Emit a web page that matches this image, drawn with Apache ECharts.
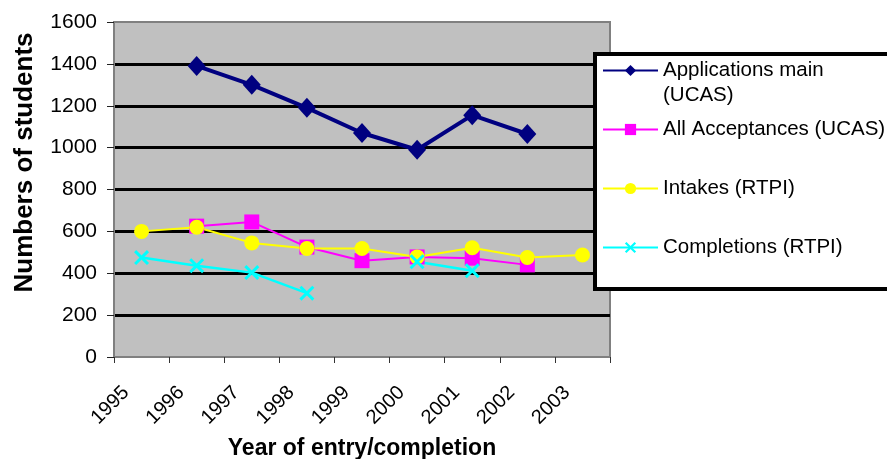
<!DOCTYPE html>
<html>
<head>
<meta charset="utf-8">
<script src="https://cdn.jsdelivr.net/npm/echarts@6/dist/echarts.min.js"></script>
<style>
html,body{margin:0;padding:0;background:#fff;}
#c{width:887px;height:459px;}
</style>
</head>
<body>
<div id="c"></div>
<script>
const categories = ['1995', '1996', '1997', '1998', '1999', '2000', '2001', '2002', '2003'];
const applications = [null, 1390, 1300, 1190, 1070, 990, 1155, 1065, null];
const acceptances = [null, 625, 645, 525, 460, 478, 472, 440, null];
const intakes = [600, 620, 545, 518, 518, 478, 522, 475, 487];
const completions = [475, 436, 403, 305, null, 455, 412, null, null];
const seriesNames = ['Applications main (UCAS)', 'All Acceptances (UCAS)', 'Intakes (RTPI)', 'Completions (RTPI)'];
const yTicks = { min: 0, max: 1600, interval: 200 };

const FONT = '"Liberation Sans", Arial, sans-serif';
const xSymbol = 'path://M0,1.4 L1.4,0 L10,8.6 L8.6,10 Z M8.6,0 L10,1.4 L1.4,10 L0,8.6 Z';

const chart = echarts.init(document.getElementById('c'), null, { renderer: 'canvas' });
chart.setOption({
  animation: false,
  backgroundColor: '#ffffff',
  textStyle: { fontFamily: FONT },
  grid: {
    left: 114, right: 277, top: 22, bottom: 102,
    outerBoundsMode: 'none', containLabel: false,
    show: true, backgroundColor: '#c0c0c0', borderColor: '#808080', borderWidth: 2
  },
  graphic: [{
    type: 'rect', z: 3, silent: true,
    shape: { x: 595, y: 54, width: 320, height: 235 },
    style: { fill: '#ffffff', stroke: '#000000', lineWidth: 4 }
  }],
  xAxis: {
    type: 'category',
    data: categories,
    boundaryGap: true,
    name: 'Year of entry/completion',
    nameLocation: 'middle',
    nameGap: 80,
    nameTextStyle: { fontSize: 23, fontWeight: 'bold', color: '#000', fontFamily: FONT },
    axisLine: { show: true, lineStyle: { color: '#808080', width: 2 } },
    axisTick: { show: true, length: 6, lineStyle: { color: '#333', width: 1 } },
    axisLabel: { rotate: 45, fontSize: 20, color: '#000', margin: 17, padding: [0, 22, 0, 0], fontFamily: FONT },
    splitLine: { show: false }
  },
  yAxis: {
    type: 'value',
    min: yTicks.min, max: yTicks.max, interval: yTicks.interval,
    name: 'Numbers of students',
    nameLocation: 'middle',
    nameGap: 76,
    nameTextStyle: { fontSize: 26, fontWeight: 'bold', color: '#000', fontFamily: FONT, padding: [0, 0, 0, 54] },
    axisLine: { show: true, lineStyle: { color: '#808080', width: 2 } },
    axisTick: { show: true, length: 7, lineStyle: { color: '#222', width: 1 } },
    axisLabel: { fontSize: 21, color: '#000', margin: 17, fontFamily: FONT, formatter: function (v) { return String(v); } },
    splitLine: { show: true, showMinLine: false, showMaxLine: false, lineStyle: { color: '#000', width: 3 } }
  },
  legend: {
    orient: 'vertical',
    left: 595, top: 33,
    itemWidth: 55, itemHeight: 14, itemGap: -16,
    padding: [0, 40, 0, 7],
    textStyle: { fontSize: 20.5, lineHeight: 25, color: '#000', fontFamily: FONT },
    formatter: function (n) { return n === seriesNames[0] ? ' \nApplications main\n(UCAS)' : n; },
    data: [
      { name: seriesNames[0] },
      { name: seriesNames[1], textStyle: { padding: [25, 0, 25, 0] } },
      { name: seriesNames[2], textStyle: { padding: [25, 0, 25, 0] } },
      { name: seriesNames[3], textStyle: { padding: [25, 0, 25, 0] } }
    ]
  },
  series: [
    {
      name: seriesNames[0], type: 'line', data: applications,
      symbol: 'diamond', symbolSize: [18, 20], connectNulls: false,
      lineStyle: { color: '#000080', width: 4 }, itemStyle: { color: '#000080' }
    },
    {
      name: seriesNames[1], type: 'line', data: acceptances,
      symbol: 'rect', symbolSize: 15, connectNulls: false,
      lineStyle: { color: '#ff00ff', width: 2 }, itemStyle: { color: '#ff00ff' }
    },
    {
      name: seriesNames[2], type: 'line', data: intakes,
      symbol: 'circle', symbolSize: 15, connectNulls: false,
      lineStyle: { color: '#ffff00', width: 2 }, itemStyle: { color: '#ffff00' }
    },
    {
      name: seriesNames[3], type: 'line', data: completions,
      symbol: xSymbol, symbolSize: 15, connectNulls: false,
      lineStyle: { color: '#00ffff', width: 2.5 }, itemStyle: { color: '#00ffff' }
    }
  ]
});
</script>
</body>
</html>
